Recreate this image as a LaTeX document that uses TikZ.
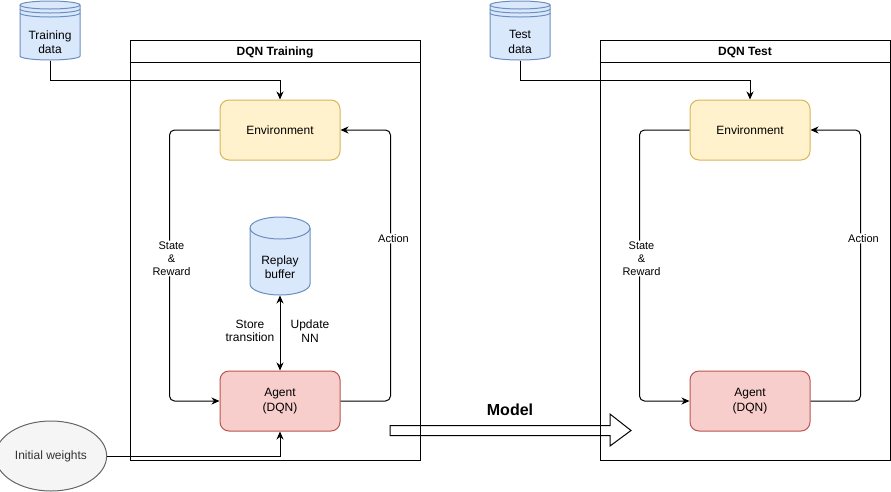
\documentclass[tikz,border=0pt]{standalone}
\usepackage{fontspec}
\setmainfont{Liberation Sans}
\usetikzlibrary{shapes.geometric, arrows.meta, positioning}

\definecolor{envfill}{HTML}{FFF2CC}
\definecolor{envline}{HTML}{D6B656}
\definecolor{agentfill}{HTML}{F8CECC}
\definecolor{agentline}{HTML}{B85450}
\definecolor{storefill}{HTML}{DAE8FC}
\definecolor{storeline}{HTML}{6C8EBF}
\definecolor{initfill}{HTML}{F5F5F5}
\definecolor{initline}{HTML}{666666}
\definecolor{inittext}{HTML}{333333}

\begin{document}
\begin{tikzpicture}[x=1pt, y=-1pt, line width=1pt, font=\fontsize{12}{14.5}\selectfont]
    \tikzstyle{lane}      = [rectangle, minimum width=290pt, minimum height=420pt, draw=black]
    \tikzstyle{lanetitle} = [font=\fontsize{12}{14}\selectfont\bfseries]
    \tikzstyle{env}       = [rectangle, rounded corners=9pt, minimum width=120pt, minimum height=60pt, align=center, draw=envline, fill=envfill]
    \tikzstyle{agent}     = [rectangle, rounded corners=9pt, minimum width=120pt, minimum height=60pt, align=center, draw=agentline, fill=agentfill]
    \tikzstyle{storetext} = [rectangle, minimum width=60pt, inner sep=0pt, align=center]
    \tikzstyle{store}     = [draw=storeline, fill=storefill]
    \tikzstyle{edgelabel} = [fill=white, inner sep=1pt, align=center, font=\fontsize{11}{13}\selectfont]
    \tikzstyle{arrow}     = [-{Stealth[length=8pt, width=7pt, inset=2.5pt]}]
    \tikzstyle{dblarrow}  = [{Stealth[length=8pt, width=7pt, inset=2.5pt]}-{Stealth[length=8pt, width=7pt, inset=2.5pt]}]
    \tikzstyle{looparrow} = [arrow, rounded corners=5pt]

    \useasboundingbox (0,0) rectangle (891,491);

    % Swimlanes
    \node [lane] (trainlane) at (275,250) {};
    \node [lane] (testlane)  at (745,250) {};
    \draw ([yshift=-23pt]trainlane.north west) -- ([yshift=-23pt]trainlane.north east);
    \draw ([yshift=-23pt]testlane.north west)  -- ([yshift=-23pt]testlane.north east);
    \node [lanetitle] (traintitle) at (275,52) {DQN Training};
    \node [lanetitle] (testtitle)  at (745,52) {DQN Test};

    % Data stores
    \draw [store] (20,5) arc[start angle=180, end angle=0, x radius=30pt, y radius=4pt] -- (80,56) arc[start angle=0, end angle=-180, x radius=30pt, y radius=4pt] -- cycle;
    \draw [draw=storeline] (20,5) arc[start angle=180, end angle=360, x radius=30pt, y radius=4pt];
    \draw [draw=storeline] (20,9) arc[start angle=180, end angle=360, x radius=30pt, y radius=4pt];
    \draw [draw=storeline] (20,13) arc[start angle=180, end angle=360, x radius=30pt, y radius=4pt];
    \draw [store] (490,5) arc[start angle=180, end angle=0, x radius=30pt, y radius=4pt] -- (550,56) arc[start angle=0, end angle=-180, x radius=30pt, y radius=4pt] -- cycle;
    \draw [draw=storeline] (490,5) arc[start angle=180, end angle=360, x radius=30pt, y radius=4pt];
    \draw [draw=storeline] (490,9) arc[start angle=180, end angle=360, x radius=30pt, y radius=4pt];
    \draw [draw=storeline] (490,13) arc[start angle=180, end angle=360, x radius=30pt, y radius=4pt];
    \node [storetext, minimum height=36pt] (traindata) at (50,42)  {Training\\data};
    \node [storetext, minimum height=36pt] (testdata)  at (520,42) {Test\\data};

    % Replay buffer
    \draw [store] (250,228) arc[start angle=180, end angle=0, x radius=30pt, y radius=11pt] -- (310,284) arc[start angle=0, end angle=-180, x radius=30pt, y radius=11pt] -- cycle;
    \draw [draw=storeline] (250,228) arc[start angle=180, end angle=360, x radius=30pt, y radius=11pt];
    \node [storetext, minimum height=56pt] (replay) at (280,267) {Replay\\buffer};

    % Training loop
    \node [env] (trainenv) at (280,130) {Environment};
    \node [agent, below=210pt of trainenv] (trainagent) {Agent\\(DQN)};

    % Test loop
    \node [env] (testenv) at (750,130) {Environment};
    \node [agent, below=210pt of testenv] (testagent) {Agent\\(DQN)};

    % Initial weights
    \node [ellipse, minimum width=100pt, minimum height=70pt, draw=initline, fill=initfill, text=inittext] (init) at (51,456) {Initial weights};

    % Labels
    \node [align=center, font=\fontsize{12}{13.5}\selectfont] (storelbl)  at (250,331) {Store\\transition};
    \node [align=center, font=\fontsize{12}{13.5}\selectfont] (updatelbl) at (310,331) {Update\\NN};
    \node [font=\fontsize{16}{18}\selectfont\bfseries] (modellbl) at (510,410) {Model};

    % Arrows
    \draw [arrow] (traindata.south) -- ++(0,20) -| (trainenv.north);
    \draw [arrow] (testdata.south)  -- ++(0,20) -| (testenv.north);
    \draw [looparrow] (trainenv.west) -| node[edgelabel, pos=0.737, xshift=2pt] {State\\\&\\Reward} ([xshift=-50pt]trainagent.west) -- (trainagent.west);
    \draw [looparrow] (trainagent.east) -| node[edgelabel, pos=0.8, xshift=3pt] {Action} ([xshift=50pt]trainenv.east) -- (trainenv.east);
    \draw [looparrow] (testenv.west) -| node[edgelabel, pos=0.737, xshift=2pt] {State\\\&\\Reward} ([xshift=-50pt]testagent.west) -- (testagent.west);
    \draw [looparrow] (testagent.east) -| node[edgelabel, pos=0.8, xshift=3pt] {Action} ([xshift=50pt]testenv.east) -- (testenv.east);
    \draw [dblarrow] (replay.south) -- (trainagent.north);
    \draw [arrow] (init.east) -| (trainagent.south);

    % Model block arrow
    \draw (390,425.5) -- (610,425.5) -- (610,414) -- (631,430.5) -- (610,446) -- (610,435.5) -- (390,435.5) -- cycle;

\end{tikzpicture}
\end{document}
